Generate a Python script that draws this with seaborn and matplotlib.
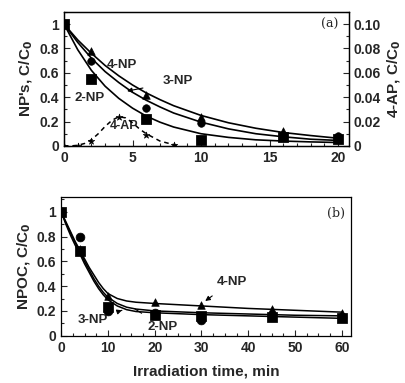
import numpy as np
import pandas as pd
import seaborn as sns
import matplotlib.pyplot as plt
from matplotlib.ticker import MultipleLocator

# ---- panel (a): measured points ----
t_a = [0, 2, 6, 10, 16, 20]
np4_a = [1.0, 0.78, 0.42, 0.24, 0.12, 0.07]
np3_a = [1.0, 0.70, 0.31, 0.185, 0.075, 0.085]
np2_a = [1.0, 0.55, 0.22, 0.05, 0.07, 0.06]

# fitted curves
t_fit_a = [0, 1, 2, 3, 4, 5, 6, 7, 8, 10, 12, 14, 16, 18, 20]
np4_fit_a = [1.0, 0.87, 0.76, 0.66, 0.575, 0.50, 0.435, 0.38, 0.33, 0.25, 0.19, 0.145, 0.11, 0.085, 0.063]
np3_fit_a = [1.0, 0.85, 0.72, 0.61, 0.52, 0.44, 0.375, 0.32, 0.27, 0.195, 0.14, 0.10, 0.075, 0.055, 0.045]
np2_fit_a = [1.0, 0.79, 0.62, 0.49, 0.39, 0.31, 0.245, 0.195, 0.155, 0.10, 0.07, 0.05, 0.04, 0.033, 0.028]

# 4-aminophenol (right axis)
t_ap = [0, 1, 2, 4, 6, 8]
ap = [0.0, 0.0, 0.004, 0.024, 0.009, 0.001]
t_ap_fit = [0, 0.5, 1, 1.5, 2, 2.5, 3, 3.5, 4, 4.5, 5, 5.5, 6, 7, 8, 8.5]
ap_fit = [0.0, 0.0, 0.0005, 0.002, 0.005, 0.010, 0.016, 0.021, 0.024, 0.023, 0.019, 0.014, 0.010, 0.004, 0.001, 0.0]

# ---- panel (b): NPOC ----
t_b = [0, 4, 10, 20, 30, 45, 60]
np4_b = [1.0, 0.70, 0.32, 0.27, 0.245, 0.215, 0.18]
np3_b = [1.0, 0.80, 0.20, 0.18, 0.13, 0.16, 0.15]
np2_b = [1.0, 0.68, 0.23, 0.17, 0.16, 0.15, 0.14]

t_fit_b = [0, 1, 2, 3, 4, 5, 6, 7, 8, 9, 10, 12, 14, 16, 20, 30, 40, 50, 60]
np4_fit_b = [1.0, 0.92, 0.84, 0.76, 0.69, 0.62, 0.55, 0.49, 0.43, 0.38, 0.34, 0.30, 0.28, 0.27, 0.26, 0.24, 0.22, 0.205, 0.19]
np2_fit_b = [1.0, 0.91, 0.83, 0.75, 0.68, 0.60, 0.53, 0.46, 0.40, 0.35, 0.31, 0.26, 0.23, 0.215, 0.20, 0.185, 0.175, 0.165, 0.16]
np3_fit_b = [1.0, 0.90, 0.81, 0.73, 0.66, 0.58, 0.51, 0.44, 0.38, 0.33, 0.29, 0.24, 0.21, 0.195, 0.185, 0.17, 0.16, 0.15, 0.14]

sns.set_style("ticks")
plt.rcParams['font.family'] = ['Liberation Sans', 'DejaVu Sans']
plt.rcParams['font.weight'] = 'bold'
plt.rcParams['axes.labelweight'] = 'bold'

fig = plt.figure(figsize=(4.05, 3.83), dpi=100)
ax1 = fig.add_axes([0.158, 0.619, 0.704, 0.350])
ax2 = fig.add_axes([0.151, 0.1235, 0.716, 0.3625])

k = 'black'
fs = 10      # tick labels
fl = 11      # axis labels
ft = 9.5     # in-plot labels


def style_axis(ax):
    ax.tick_params(which='both', direction='in', labelsize=fs, width=0.8, top=False)
    ax.tick_params(which='major', length=4)
    ax.tick_params(which='minor', length=2)
    for s in ax.spines.values():
        s.set_linewidth(0.9)
        s.set_color(k)
    for lab in ax.get_xticklabels() + ax.get_yticklabels():
        lab.set_fontweight('bold')


# panel (a) curves
for tt, yy in [(t_fit_a, np4_fit_a), (t_fit_a, np3_fit_a), (t_fit_a, np2_fit_a)]:
    sns.lineplot(x=tt, y=yy, ax=ax1, color=k, lw=1.2, sort=False)
sns.scatterplot(x=t_a, y=np4_a, ax=ax1, marker='^', s=30, color=k, edgecolor=k, zorder=5)
sns.scatterplot(x=t_a, y=np3_a, ax=ax1, marker='o', s=30, color=k, edgecolor=k, zorder=5)
sns.scatterplot(x=t_a, y=np2_a, ax=ax1, marker='s', s=50, color=k, edgecolor=k, zorder=5)

ax1.set_xlim(0, 20.8)
ax1.set_ylim(0, 1.1)
ax1.set_yticks([0, 0.2, 0.4, 0.6, 0.8, 1])
ax1.set_yticklabels(['0', '0.2', '0.4', '0.6', '0.8', '1'])
ax1.set_xticks([0, 5, 10, 15, 20])
ax1.xaxis.set_minor_locator(MultipleLocator(1))
ax1.yaxis.set_minor_locator(MultipleLocator(0.1))
ax1.set_ylabel("NP's, C/C$_\\mathbf{0}$", fontsize=fl, fontweight='bold', labelpad=3)
ax1.set_xlabel('')
style_axis(ax1)

ax1r = ax1.twinx()
sns.lineplot(x=t_ap_fit, y=ap_fit, ax=ax1r, color=k, lw=1.1, linestyle=(0, (3, 2.5)), sort=False)
sns.scatterplot(x=t_ap, y=ap, ax=ax1r, marker='*', s=25, color=k, edgecolor=k, zorder=5)
ax1r.set_ylim(0, 0.11)
ax1r.set_yticks([0, 0.02, 0.04, 0.06, 0.08, 0.10])
ax1r.set_yticklabels(['0', '0.02', '0.04', '0.06', '0.08', '0.10'])
ax1r.yaxis.set_minor_locator(MultipleLocator(0.01))
ax1r.set_ylabel('4-AP, C/C$_\\mathbf{0}$', fontsize=fl, fontweight='bold', labelpad=3)
style_axis(ax1r)

ax1.text(4.2, 0.66, '4-NP', fontsize=ft, fontweight='bold', ha='center', va='center')
ax1.text(1.9, 0.39, '2-NP', fontsize=ft, fontweight='bold', ha='center', va='center')
ax1.text(4.4, 0.16, '4-AP', fontsize=ft - 0.5, fontweight='bold', ha='center', va='center')
ax1.annotate('3-NP', xy=(4.6, 0.45), xytext=(8.3, 0.53), fontsize=ft, fontweight='bold',
             ha='center', va='center',
             arrowprops=dict(arrowstyle='-|>', color=k, lw=0.8, mutation_scale=7, shrinkA=12, shrinkB=0))
ax1.text(19.4, 1.0, '(a)', fontsize=9, fontweight='normal', family='DejaVu Serif',
         ha='center', va='center')

# panel (b)
for tt, yy in [(t_fit_b, np4_fit_b), (t_fit_b, np2_fit_b), (t_fit_b, np3_fit_b)]:
    sns.lineplot(x=tt, y=yy, ax=ax2, color=k, lw=1.1, sort=False)
sns.scatterplot(x=t_b, y=np4_b, ax=ax2, marker='^', s=30, color=k, edgecolor=k, zorder=5)
sns.scatterplot(x=t_b, y=np3_b, ax=ax2, marker='o', s=40, color=k, edgecolor=k, zorder=5)
sns.scatterplot(x=t_b, y=np2_b, ax=ax2, marker='s', s=45, color=k, edgecolor=k, zorder=5)

ax2.set_xlim(0, 62)
ax2.set_ylim(0, 1.12)
ax2.set_yticks([0, 0.2, 0.4, 0.6, 0.8, 1])
ax2.set_yticklabels(['0', '0.2', '0.4', '0.6', '0.8', '1'])
ax2.set_xticks([0, 10, 20, 30, 40, 50, 60])
ax2.xaxis.set_minor_locator(MultipleLocator(2.5))
ax2.yaxis.set_minor_locator(MultipleLocator(0.1))
ax2.set_ylabel('NPOC, C/C$_\\mathbf{0}$', fontsize=fl, fontweight='bold', labelpad=3)
ax2.set_xlabel('Irradiation time, min', fontsize=fl, fontweight='bold', labelpad=7)
style_axis(ax2)

ax2.annotate('4-NP', xy=(30.8, 0.28), xytext=(36.5, 0.435), fontsize=ft, fontweight='bold',
             ha='center', va='center',
             arrowprops=dict(arrowstyle='-|>', color=k, lw=0.8, mutation_scale=7, shrinkA=6, shrinkB=0))
ax2.annotate('3-NP', xy=(13.0, 0.205), xytext=(6.8, 0.125), fontsize=ft, fontweight='bold',
             ha='center', va='center',
             arrowprops=dict(arrowstyle='-|>', color=k, lw=0.8, mutation_scale=7, shrinkA=8, shrinkB=0))
ax2.annotate('2-NP', xy=(15.8, 0.215), xytext=(21.8, 0.07), fontsize=ft, fontweight='bold',
             ha='center', va='center',
             arrowprops=dict(arrowstyle='-', color=k, lw=0.8, shrinkA=6, shrinkB=0))
ax2.text(58.8, 0.99, '(b)', fontsize=9, fontweight='normal', family='DejaVu Serif',
         ha='center', va='center')

fig.savefig('out.png', dpi=100)
